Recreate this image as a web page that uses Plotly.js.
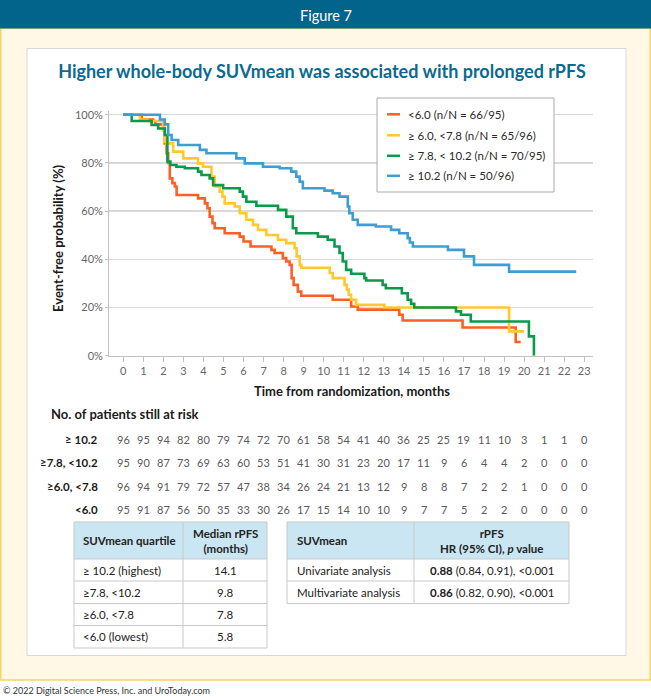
<!DOCTYPE html>
<html>
<head>
<meta charset="utf-8">
<script src="https://cdn.plot.ly/plotly-3.0.1.min.js"></script>
<style>
  html, body { margin: 0; padding: 0; background: #ffffff; }
  #chart { width: 651px; height: 696px; }
</style>
</head>
<body>
<div id="chart"></div>
<script>
// ---- Kaplan-Meier curves: rPFS by whole-body SUVmean quartile ----
const seriesNames = ['<6.0 (n/N = 66/95)', '\u2265 6.0, <7.8 (n/N = 65/96)', '\u2265 7.8, < 10.2 (n/N = 70/95)', '\u2265 10.2 (n/N = 50/96)'];
const seriesColors = ['#FF5E24', '#FFC82E', '#0A9A4B', '#3C9ED3'];

const timeLow = [0, 0.92, 1.49, 1.6, 1.99, 2.07, 2.16, 2.24, 2.32, 2.45, 2.57, 2.66, 3.73, 4.07, 4.2, 4.31, 4.45, 4.56, 5.06, 5.81, 6.0, 6.35, 7.39, 7.55, 7.96, 8.13, 8.3, 8.4, 8.5, 8.71, 8.88, 10.45, 11.37, 11.7, 13.77, 13.94, 16.93, 19.58, 19.83];
const survLow = [100, 98, 97.3, 96, 94.5, 88.1, 84, 80, 73.6, 71.6, 70.2, 66.7, 65.3, 63.2, 61.2, 57.7, 55, 52.9, 50.8, 49.4, 47.4, 45.3, 43.9, 42.6, 40.5, 39.1, 37.7, 32.2, 29.4, 26.6, 24.9, 23.2, 20.4, 19.1, 17, 14.6, 11.7, 5.7, 5.7];

const timeMidLow = [0, 0.83, 1.2, 1.99, 2.07, 2.16, 2.49, 2.99, 3.73, 3.98, 4.4, 4.56, 4.81, 4.95, 5.06, 5.56, 5.81, 6.14, 6.47, 6.72, 7.14, 7.72, 8.13, 8.55, 8.65, 8.8, 8.88, 10.3, 10.45, 11.04, 11.15, 11.25, 11.37, 11.62, 13.03, 19.25, 20.0];
const survMidLow = [100, 98, 97.4, 93.5, 88.8, 88.1, 84.7, 81.9, 79.8, 78.4, 74.3, 70.2, 68.1, 66, 63.2, 61.9, 59.1, 56.4, 54.3, 52.2, 50.1, 48.1, 46.7, 44.6, 41.2, 37.7, 36.5, 34.3, 32.2, 29.4, 27.4, 25.3, 23.2, 21.1, 20.0, 10.1, 10.1];

const timeMidHigh = [0, 0.42, 1.41, 1.74, 2.07, 2.2, 2.35, 2.65, 3.07, 3.73, 3.9, 4.31, 4.48, 4.98, 5.81, 5.97, 6.14, 6.64, 7.72, 8.13, 8.46, 8.63, 9.71, 10.2, 10.54, 10.79, 10.95, 11.12, 11.37, 12.03, 12.12, 12.94, 13.1, 13.9, 14.19, 14.36, 14.52, 16.6, 16.85, 17.34, 20.24, 20.49];
const survMidHigh = [100, 97.4, 95.7, 94.3, 91.6, 80.6, 79.1, 78.4, 77.8, 76.4, 75, 73.6, 70.8, 69.5, 68.1, 66, 63.9, 62.2, 60.5, 57.7, 52.9, 50.8, 49.4, 48.1, 45.3, 42.6, 39.1, 35.6, 34.0, 32.2, 31.2, 29.4, 28.0, 25.9, 23.2, 21.5, 20.0, 18.4, 17.0, 14.2, 8.0, 0];

const timeHigh = [0, 1.83, 2.07, 2.24, 2.41, 2.74, 3.82, 4.15, 5.64, 6.06, 6.97, 7.8, 8.38, 8.63, 8.8, 8.96, 10.04, 10.45, 10.79, 11.2, 11.28, 11.45, 11.7, 12.6, 13.36, 13.77, 14.19, 14.3, 14.45, 16.2, 17.0, 17.5, 19.25, 22.6];
const survHigh = [100, 98, 96, 91.6, 89.5, 87.4, 85.4, 84, 81.9, 79.8, 78.4, 77.8, 76.4, 74.3, 72.2, 69.5, 68.5, 67.4, 66, 61.9, 59.1, 56.4, 54.3, 53.6, 52.2, 50.8, 48.8, 47, 45.3, 43.9, 41.2, 37.7, 34.9, 34.9];

const yTicks = [0, 20, 40, 60, 80, 100];
const yTickLabels = ['0%', '20%', '40%', '60%', '80%', '100%'];

// ---- Number at risk ----
const riskMonths = [0, 1, 2, 3, 4, 5, 6, 7, 8, 9, 10, 11, 12, 13, 14, 15, 16, 17, 18, 19, 20, 21, 22, 23];
const riskLabels = ['\u2265 10.2', '\u22657.8, <10.2', '\u22656.0, <7.8', '<6.0'];
const riskHigh    = [96, 95, 94, 82, 80, 79, 74, 72, 70, 61, 58, 54, 41, 40, 36, 25, 25, 19, 11, 10, 3, 1, 1, 0];
const riskMidHigh = [95, 90, 87, 73, 69, 63, 60, 53, 51, 41, 30, 31, 23, 20, 17, 11, 9, 6, 4, 4, 2, 0, 0, 0];
const riskMidLow  = [96, 94, 91, 79, 72, 57, 47, 38, 34, 26, 24, 21, 13, 12, 9, 8, 8, 7, 2, 2, 1, 0, 0, 0];
const riskLow     = [95, 91, 87, 56, 50, 35, 33, 30, 26, 17, 15, 14, 10, 10, 9, 7, 7, 5, 2, 2, 0, 0, 0, 0];

// ---- Summary tables ----
const quartileHeader = ['SUVmean quartile', 'Median rPFS<br>(months)'];
const quartileLabels = ['\u2265 10.2 (highest)', '\u22657.8, <10.2', '\u22656.0, <7.8', '<6.0 (lowest)'];
const medianRPFS = ['14.1', '9.8', '7.8', '5.8'];
const hrHeader = ['SUVmean', 'rPFS<br>HR (95% CI), <i>p</i> value'];
const analysisLabels = ['Univariate analysis', 'Multivariate analysis'];
const hrValues = ['0.88', '0.86'];
const hrDetails = ['(0.84, 0.91), <0.001', '(0.82, 0.90), <0.001'];

// ---- page geometry helpers (pixel -> paper) ----
const W = 651, H = 696;
const X = p => p / W;
const Y = p => 1 - p / H;
const FONT = 'Lato, "Noto Sans", "DejaVu Sans", sans-serif';

const times = [timeLow, timeMidLow, timeMidHigh, timeHigh];
const survs = [survLow, survMidLow, survMidHigh, survHigh];

const traces = times.map((t, i) => ({
  type: 'scatter',
  mode: 'lines',
  x: t,
  y: survs[i],
  name: seriesNames[i],
  line: { shape: 'hv', color: seriesColors[i], width: 2.6 },
  showlegend: false,
  hoverinfo: 'skip'
}));

const shapes = [];
const annotations = [];

// page frame
shapes.push({ type: 'rect', xref: 'paper', yref: 'paper', x0: X(0.7), x1: X(650.3), y0: Y(680), y1: Y(28),
  fillcolor: '#FFF8E7', line: { color: '#F6D45E', width: 1.5 }, layer: 'below' });
shapes.push({ type: 'rect', xref: 'paper', yref: 'paper', x0: 0, x1: 1, y0: Y(28.5), y1: 1,
  fillcolor: '#03648B', line: { width: 0 }, layer: 'below' });
shapes.push({ type: 'rect', xref: 'paper', yref: 'paper', x0: X(27), x1: X(626), y0: Y(655.5), y1: Y(48.5),
  fillcolor: '#FFFFFF', line: { color: '#D8D8D8', width: 1 }, layer: 'below' });

annotations.push({ xref: 'paper', yref: 'paper', x: X(325.5), y: Y(15), text: 'Figure 7', showarrow: false,
  xanchor: 'center', yanchor: 'middle', font: { family: FONT, size: 14.5, color: '#FFFFFF' } });

// axis titles
annotations.push({ xref: 'paper', yref: 'paper', x: X(352), y: Y(390.5), text: '<b>Time from randomization, months</b>',
  showarrow: false, xanchor: 'center', yanchor: 'middle', font: { family: FONT, size: 13, color: '#1A1A1A' } });
annotations.push({ xref: 'paper', yref: 'paper', x: X(58), y: Y(238), text: '<b>Event-free probability (%)</b>', textangle: -90,
  showarrow: false, xanchor: 'center', yanchor: 'middle', font: { family: FONT, size: 13, color: '#1A1A1A' } });

// legend box
const legTop = 98, legBottom = 192, legLeft = 377, legRight = 554;
shapes.push({ type: 'rect', xref: 'paper', yref: 'paper', x0: X(legLeft), x1: X(legRight), y0: Y(legBottom), y1: Y(legTop),
  fillcolor: '#FFFFFF', line: { color: '#ABABAB', width: 1 } });
const legRows = [114.3, 135.3, 155.8, 175.8];
seriesNames.forEach((name, i) => {
  shapes.push({ type: 'line', xref: 'paper', yref: 'paper', x0: X(387), x1: X(400), y0: Y(legRows[i]), y1: Y(legRows[i]),
    line: { color: seriesColors[i], width: 2.5 } });
  annotations.push({ xref: 'paper', yref: 'paper', x: X(406), y: Y(legRows[i]), text: name, showarrow: false,
    xanchor: 'left', yanchor: 'middle', font: { family: FONT, size: 11.5, color: '#2A2A2A' } });
});

// number at risk
annotations.push({ xref: 'paper', yref: 'paper', x: X(49), y: Y(413.5), text: '<b>No. of patients still at risk</b>',
  showarrow: false, xanchor: 'left', yanchor: 'middle', font: { family: FONT, size: 13, color: '#1A1A1A' } });
const riskRows = [riskHigh, riskMidHigh, riskMidLow, riskLow];
const riskRowY = [439, 462.5, 486, 509];
riskRows.forEach((row, r) => {
  annotations.push({ xref: 'paper', yref: 'paper', x: X(100), y: Y(riskRowY[r]), text: '<b>' + riskLabels[r] + '</b>',
    showarrow: false, xanchor: 'right', yanchor: 'middle', font: { family: FONT, size: 11.5, color: '#1A1A1A' } });
  row.forEach((n, m) => {
    annotations.push({ xref: 'x', yref: 'paper', x: riskMonths[m], y: Y(riskRowY[r]), text: String(n),
      showarrow: false, xanchor: 'center', yanchor: 'middle', font: { family: FONT, size: 11, color: '#5A5A5A' } });
  });
});

// table drawing helper
function drawTable(left, mid, right, top, headBottom, rowLines, header, col1, col2, col1Pad) {
  shapes.push({ type: 'rect', xref: 'paper', yref: 'paper', x0: X(left), x1: X(right), y0: Y(headBottom), y1: Y(top),
    fillcolor: '#CBE6F3', line: { width: 0 }, layer: 'below' });
  const border = { color: '#C9C9C9', width: 1 };
  const bottom = rowLines[rowLines.length - 1];
  shapes.push({ type: 'rect', xref: 'paper', yref: 'paper', x0: X(left), x1: X(right), y0: Y(bottom), y1: Y(top),
    line: border, fillcolor: 'rgba(0,0,0,0)' });
  shapes.push({ type: 'line', xref: 'paper', yref: 'paper', x0: X(mid), x1: X(mid), y0: Y(bottom), y1: Y(top), line: border });
  [headBottom].concat(rowLines.slice(0, -1)).forEach(yy => {
    shapes.push({ type: 'line', xref: 'paper', yref: 'paper', x0: X(left), x1: X(right), y0: Y(yy), y1: Y(yy), line: border });
  });
  const hy = (top + headBottom) / 2;
  const tf = { family: FONT, size: 11.5, color: '#222222' };
  annotations.push({ xref: 'paper', yref: 'paper', x: X(left + col1Pad), y: Y(hy), text: '<b>' + header[0] + '</b>',
    showarrow: false, xanchor: 'left', yanchor: 'middle', font: tf });
  annotations.push({ xref: 'paper', yref: 'paper', x: X((mid + right) / 2), y: Y(hy), text: '<b>' + header[1] + '</b>',
    showarrow: false, xanchor: 'center', yanchor: 'middle', align: 'center', font: tf });
  let prev = headBottom;
  rowLines.forEach((yy, i) => {
    const cy = (prev + yy) / 2;
    annotations.push({ xref: 'paper', yref: 'paper', x: X(left + col1Pad), y: Y(cy), text: col1[i],
      showarrow: false, xanchor: 'left', yanchor: 'middle', font: tf });
    annotations.push({ xref: 'paper', yref: 'paper', x: X((mid + right) / 2), y: Y(cy), text: col2[i],
      showarrow: false, xanchor: 'center', yanchor: 'middle', font: tf });
    prev = yy;
  });
}

drawTable(74, 183, 267, 522, 559, [581, 603.5, 625.5, 648], quartileHeader, quartileLabels, medianRPFS, 7);
drawTable(287, 414, 569, 522, 559, [581, 603.5], hrHeader, analysisLabels,
  hrValues.map((v, i) => '<b>' + v + '</b> ' + hrDetails[i]), 8);

// footer
annotations.push({ xref: 'paper', yref: 'paper', x: X(1), y: Y(690), text: '\u00a9 2022 Digital Science Press, Inc. and UroToday.com',
  showarrow: false, xanchor: 'left', yanchor: 'middle', font: { family: FONT, size: 9, color: '#333333' } });

// axes geometry: 0 months at 123.3px, 20.04 px per month; 0% at 355.7px, 2.41 px per %
const pxPerMonth = 20.04, x0px = 123.3, plotLeft = 109.3, plotRight = 593;
const yZero = 355.7, pxPerPct = 2.41, yTopPct = 101.5;

const layout = {
  width: W, height: H,
  margin: { l: 0, r: 0, t: 0, b: 0 },
  paper_bgcolor: '#FFFFFF',
  plot_bgcolor: 'rgba(0,0,0,0)',
  font: { family: FONT },
  showlegend: false,
  title: {
    text: '<b>Higher whole-body SUVmean was associated with prolonged rPFS</b>',
    x: X(322), y: Y(72), xanchor: 'center', yanchor: 'middle',
    font: { family: FONT, size: 18, color: '#0B6A90' }
  },
  xaxis: {
    domain: [X(plotLeft), X(plotRight)],
    range: [(plotLeft - x0px) / pxPerMonth, (plotRight - x0px) / pxPerMonth],
    tickvals: riskMonths,
    ticks: 'outside', ticklen: 5, tickcolor: '#C2C2C2', tickwidth: 1,
    showline: true, linecolor: '#C2C2C2', linewidth: 1.2,
    showgrid: false, zeroline: false,
    tickfont: { family: FONT, size: 11, color: '#666666' },
    fixedrange: true
  },
  yaxis: {
    domain: [Y(yZero), Y(yZero - yTopPct * pxPerPct)],
    range: [0, yTopPct],
    tickmode: 'array', tickvals: yTicks, ticktext: yTickLabels,
    ticks: 'outside', ticklen: 3, tickcolor: '#C2C2C2',
    showline: true, linecolor: '#C2C2C2', linewidth: 1.2,
    showgrid: true, gridcolor: '#D9D9D9', gridwidth: 1.3,
    zeroline: false,
    tickfont: { family: FONT, size: 11, color: '#666666' },
    fixedrange: true
  },
  shapes: shapes,
  annotations: annotations
};

Plotly.newPlot('chart', traces, layout, { displayModeBar: false, staticPlot: true });
</script>
</body>
</html>
